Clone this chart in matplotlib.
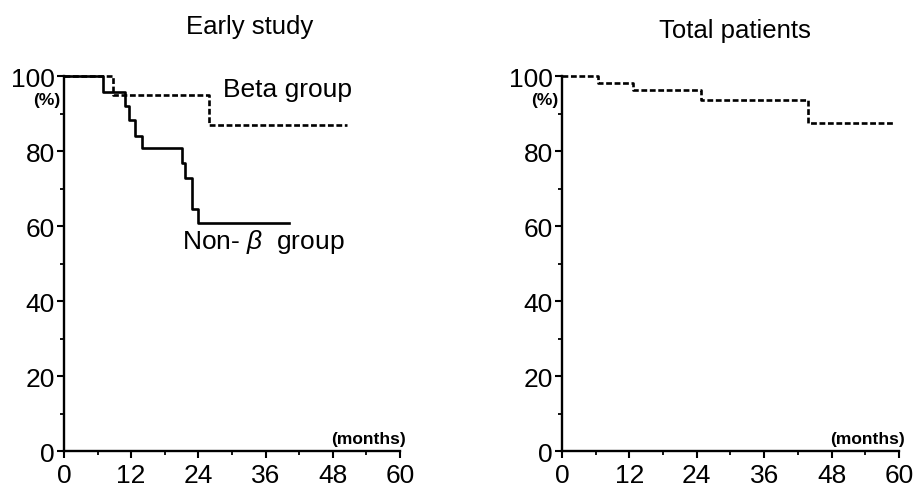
import matplotlib.pyplot as plt
from matplotlib.ticker import MultipleLocator

plt.rcParams['font.family'] = ['Liberation Sans', 'DejaVu Sans']
plt.rcParams['mathtext.fontset'] = 'custom'
plt.rcParams['mathtext.it'] = 'Liberation Sans:italic'

# Early study: step times (months) and survival (%)
beta_t = [0, 8.8, 25.9, 50.5]
beta_s = [100, 95, 87, 87]
nonbeta_t = [0, 7, 10.9, 11.7, 12.7, 13.9, 21, 21.6, 22.9, 24, 40.2]
nonbeta_s = [100, 95.8, 92, 88.3, 84, 80.8, 76.8, 72.8, 64.5, 60.8, 60.8]

# Total patients
total_t = [0, 6.4, 12.6, 24.7, 43.8, 59.3]
total_s = [100, 98.1, 96.2, 93.5, 87.4, 87.4]

xticks = [0, 12, 24, 36, 48, 60]
yticks = [0, 20, 40, 60, 80, 100]

dash = (0, (2.2, 1.0))

fig = plt.figure(figsize=(9.13, 4.85), dpi=100)
ax1 = fig.add_axes([0.070, 0.068, 0.368, 0.773])
ax2 = fig.add_axes([0.6156, 0.068, 0.369, 0.773])


def style(ax):
    ax.set_xlim(0, 60)
    ax.set_ylim(0, 100)
    ax.spines['top'].set_visible(False)
    ax.spines['right'].set_visible(False)
    ax.spines['left'].set_linewidth(1.7)
    ax.spines['bottom'].set_linewidth(1.7)
    ax.set_xticks(xticks)
    ax.set_yticks(yticks)
    ax.xaxis.set_minor_locator(MultipleLocator(6))
    ax.yaxis.set_minor_locator(MultipleLocator(10))
    ax.tick_params(which='major', length=5, width=1.5, labelsize=19)
    ax.tick_params(axis='x', which='major', pad=3.5)
    ax.tick_params(axis='y', which='major', pad=1.5)
    ax.tick_params(which='minor', length=3, width=1.3)
    ax.text(-0.7, 93.8, '(%)', ha='right', va='center', fontsize=12.5,
            fontweight='bold')
    ax.text(61.0, 1.3, '(months)', ha='right', va='bottom', fontsize=12.5,
            fontweight='bold')


style(ax1)
style(ax2)

ax1.step(beta_t, beta_s, where='post', color='black', lw=1.9, linestyle=dash,
         clip_on=False)
ax1.step(nonbeta_t, nonbeta_s, where='post', color='black', lw=1.9,
         clip_on=False)
ax1.text(28.4, 96.5, 'Beta group', ha='left', va='center', fontsize=19)
ax1.text(21, 56, r'Non- $\beta$  group', ha='left', va='center', fontsize=19)

ax2.step(total_t, total_s, where='post', color='black', lw=1.9, linestyle=dash,
         clip_on=False)

fig.text(250 / 913, 1 - 27 / 485, 'Early study', ha='center', va='center',
         fontsize=18.5)
fig.text(735 / 913, 1 - 31 / 485, 'Total patients', ha='center', va='center',
         fontsize=18.5)

fig.savefig('out.png', dpi=100)
